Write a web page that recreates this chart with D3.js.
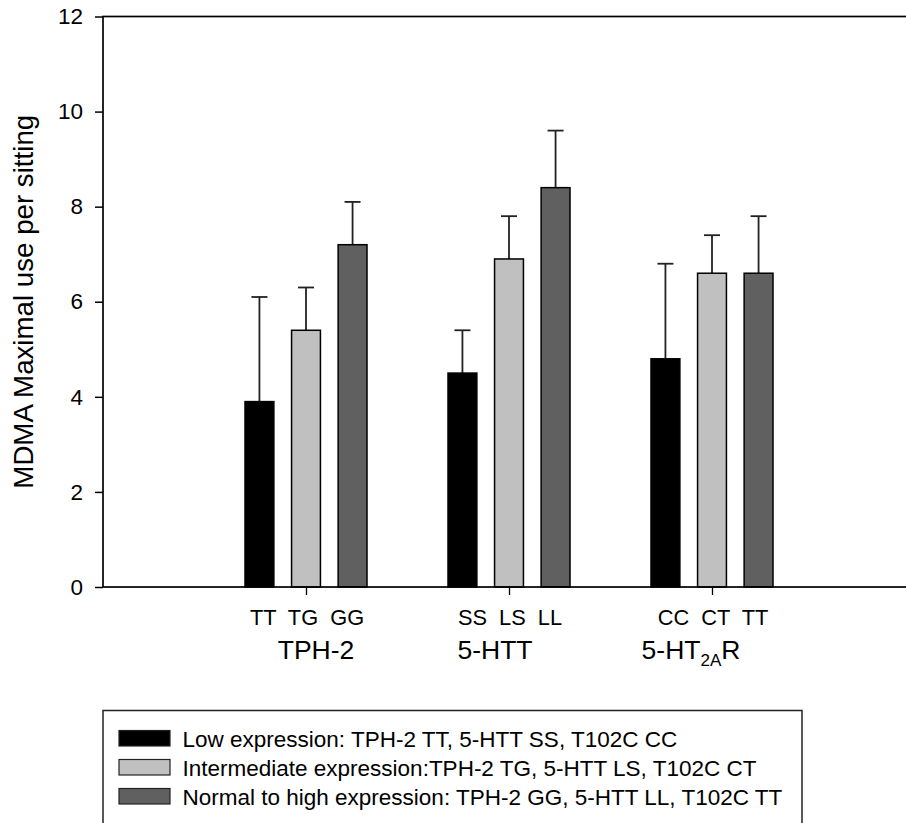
<!DOCTYPE html>
<html>
<head>
<meta charset="utf-8">
<script src="https://cdn.jsdelivr.net/npm/d3@7"></script>
<style>
  body { margin: 0; background: #fff; }
  text { font-family: "Liberation Sans", Arial, sans-serif; fill: #000; }
</style>
</head>
<body>
<svg id="chart"></svg>
<script>
// data
const groups = ["TPH-2", "5-HTT", "5-HT2AR"];
const genotypes = [["TT", "TG", "GG"], ["SS", "LS", "LL"], ["CC", "CT", "TT"]];
const levels = ["Low expression: TPH-2 TT, 5-HTT SS, T102C CC",
                "Intermediate expression:TPH-2 TG, 5-HTT LS, T102C CT",
                "Normal to high expression: TPH-2 GG, 5-HTT LL, T102C TT"];
const means = [[3.9, 5.4, 7.2], [4.5, 6.9, 8.4], [4.8, 6.6, 6.6]];
const errors = [[2.2, 0.9, 0.9], [0.9, 0.9, 1.2], [2.0, 0.8, 1.2]];
const yTicks = [0, 2, 4, 6, 8, 10, 12];

const width = 906, height = 823;
const colors = ["#000000", "#c0c0c0", "#606060"];

const svg = d3.select("#chart")
    .attr("width", width)
    .attr("height", height);

// plot area
const pl = 103, pr = 915, pt = 16.5, pb = 587;

const x = d3.scaleLinear().domain([0, 4]).range([pl, pr]);
const y = d3.scaleLinear().domain([0, 12]).range([pb, pt]);
const inner = d3.scaleBand().domain([0, 1, 2]).range([-61, 61]).paddingInner(0.38);

// bars + error bars
const rows = [];
means.forEach((m, gi) => m.forEach((v, k) => rows.push({ gi, k, v, e: errors[gi][k] })));

const barX = d => x(d.gi + 1) + inner(d.k);

svg.selectAll(".err")
    .data(rows)
    .enter()
    .append("g")
    .attr("class", "err")
    .each(function(d) {
        const cx = barX(d) + inner.bandwidth() / 2;
        const g = d3.select(this).attr("stroke", "#222").attr("stroke-width", 1.8);
        g.append("line").attr("x1", cx).attr("x2", cx).attr("y1", y(d.v)).attr("y2", y(d.v + d.e));
        g.append("line").attr("x1", cx - 8).attr("x2", cx + 8).attr("y1", y(d.v + d.e)).attr("y2", y(d.v + d.e));
    });

svg.selectAll(".bar")
    .data(rows)
    .enter()
    .append("rect")
    .attr("class", "bar")
    .attr("x", barX)
    .attr("y", d => y(d.v))
    .attr("width", inner.bandwidth())
    .attr("height", d => y(0) - y(d.v))
    .attr("fill", d => colors[d.k])
    .attr("stroke", "#000")
    .attr("stroke-width", 1.5);

// frame
svg.append("rect")
    .attr("x", pl).attr("y", pt)
    .attr("width", pr - pl).attr("height", pb - pt)
    .attr("fill", "none").attr("stroke", "#000").attr("stroke-width", 1.7);

// y axis
const yAxis = svg.append("g")
    .attr("transform", `translate(${pl},0)`)
    .call(d3.axisLeft(y).tickValues(yTicks).tickSize(8).tickPadding(12).tickFormat(d3.format("d")));
yAxis.select(".domain").remove();
yAxis.attr("font-family", null);
yAxis.selectAll(".tick line").attr("stroke", "#000").attr("stroke-width", 1.5);
yAxis.selectAll("text").style("font-size", "22.5px");

// x axis ticks at group centres
const xAxis = svg.append("g")
    .attr("transform", `translate(0,${pb})`)
    .call(d3.axisBottom(x).tickValues([1, 2, 3]).tickSize(8).tickFormat(""));
xAxis.select(".domain").remove();
xAxis.selectAll(".tick line").attr("stroke", "#000").attr("stroke-width", 1.3);

// genotype labels
svg.selectAll(".geno")
    .data(genotypes)
    .enter()
    .append("text")
    .attr("class", "geno")
    .attr("x", (d, i) => x(i + 1) + 1)
    .attr("y", 625)
    .attr("text-anchor", "middle")
    .style("font-size", "21.8px")
    .style("white-space", "pre")
    .text(d => d.join("  "));

// group labels
const shift = [10, -14, -21];
const gl = svg.selectAll(".grp")
    .data(groups)
    .enter()
    .append("text")
    .attr("class", "grp")
    .attr("x", (d, i) => x(i + 1) + shift[i])
    .attr("y", 659)
    .attr("text-anchor", "middle")
    .style("font-size", "26.5px");
gl.each(function(d) {
    const t = d3.select(this);
    const m = d.match(/^(5-HT)(2A)(R)$/);
    if (m) {
        t.append("tspan").text(m[1]);
        t.append("tspan").attr("dy", 7).style("font-size", "17px").text(m[2]);
        t.append("tspan").attr("dy", -7).text(m[3]);
    } else {
        t.text(d);
    }
});

// y title
svg.append("text")
    .attr("transform", `translate(33,${(pt + pb) / 2}) rotate(-90)`)
    .attr("text-anchor", "middle")
    .style("font-size", "27.7px")
    .text("MDMA Maximal use per sitting");

// legend
const leg = svg.append("g");
leg.append("rect")
    .attr("x", 103).attr("y", 710.5)
    .attr("width", 699).attr("height", 140)
    .attr("fill", "none").attr("stroke", "#222").attr("stroke-width", 1.5);

const li = leg.selectAll(".li")
    .data(levels)
    .enter()
    .append("g")
    .attr("class", "li")
    .attr("transform", (d, i) => `translate(0,${730.5 + i * 29})`);
li.append("rect")
    .attr("x", 119).attr("y", 0)
    .attr("width", 51).attr("height", 15.5)
    .attr("fill", (d, i) => colors[i])
    .attr("stroke", "#222").attr("stroke-width", 1.2);
li.append("text")
    .attr("x", 182.5).attr("y", 16)
    .style("font-size", "22.5px")
    .text(d => d);
</script>
</body>
</html>
